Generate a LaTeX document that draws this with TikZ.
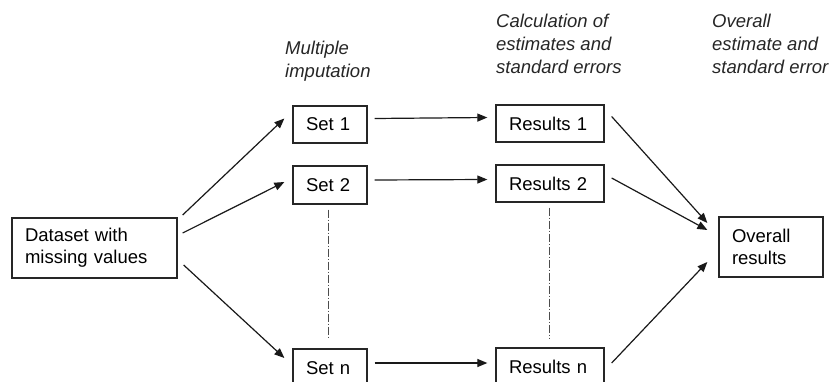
\documentclass[tikz,border=0pt]{standalone}
\usepackage{fontspec}
\setmainfont{Liberation Sans}
\usetikzlibrary{arrows.meta}
\begin{document}
\begin{tikzpicture}[x=1pt,y=-1pt,
                box/.style={rectangle,draw=black!85,line width=1.3pt,
                inner xsep=13pt,inner ysep=0pt,align=left,
                font=\fontsize{18.5}{22}\selectfont},
                head/.style={anchor=north west,inner sep=0pt,align=left,
                font=\fontsize{18.5}{23}\selectfont\itshape,text=black!85},
                arr/.style={-{Triangle[length=10pt,width=8pt]},line width=1.2pt,draw=black!90},
                dots/.style={line width=0.9pt,draw=black!70,
                dash pattern=on 8pt off 2pt on 1pt off 2pt}]
                \useasboundingbox (0,0) rectangle (834,382);
                \node (data) at ( 94.5,248) [box,text width=139pt,minimum height=60pt] {Dataset with\\missing values};
                \node (set1) at (330,124.5) [box,text width=48pt,minimum height=37pt] {Set 1};
                \node (set2) at (330,185) [box,text width=48pt,minimum height=38pt] {Set 2};
                \node (setn) at (330,368) [box,text width=48pt,minimum height=38pt] {Set n};
                \node (res1) at (550,123.5) [box,text width=82pt,minimum height=37pt] {Results 1};
                \node (res2) at (550,183.5) [box,text width=82pt,minimum height=37pt] {Results 2};
                \node (resn) at (550,367) [box,text width=82pt,minimum height=38pt] {Results n};
                \node (all) at (771,247) [box,text width=78pt,minimum height=60pt] {Overall\\results};
                \node (h1) at (285,40.5) [head] {Multiple\\imputation};
                \node (h2) at (496,14) [head] {Calculation of\\estimates and\\standard errors};
                \node (h3) at (712,14) [head] {Overall\\estimate and\\standard error};
                \draw ([shift={(5,-33)}]data.east) edge[arr] ([shift={(-8,-6)}]set1.west);
                \draw ([shift={(5,-15)}]data.east) edge[arr] ([shift={(-8,-3)}]set2.west);
                \draw ([shift={(6,17)}]data.east) edge[arr] ([shift={(-8,-10)}]setn.west);
                \draw ([shift={(7,-6)}]set1.east) edge[arr] ([shift={(-8,-6)}]res1.west);
                \draw ([shift={(7,-5)}]set2.east) edge[arr] ([shift={(-8,-4)}]res2.west);
                \draw ([shift={(7,-5)}]setn.east) edge[arr] ([shift={(-8,-4)}]resn.west);
                \draw ([shift={(7,-7)}]res1.east) edge[arr] ([shift={(-11,-24)}]all.west);
                \draw ([shift={(7,-5.5)}]res2.east) edge[arr] ([shift={(-11,-17)}]all.west);
                \draw ([shift={(7,-4)}]resn.east) edge[arr] ([shift={(-11,15)}]all.west);
                \draw ([shift={(-2,5)}]set2.south) edge[dots] ([shift={(-2,-9)}]setn.north);
                \draw ([shift={(-1,5)}]res2.south) edge[dots] ([shift={(-1,-9)}]resn.north);
            \end{tikzpicture}
\end{document}
